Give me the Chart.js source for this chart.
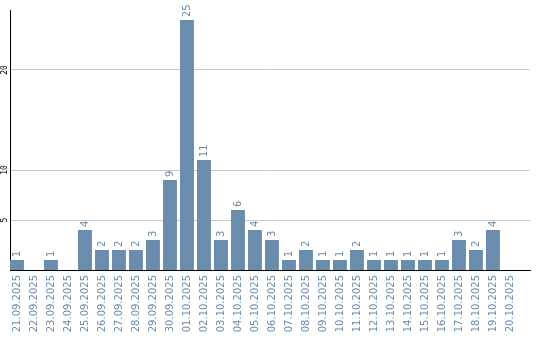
<!DOCTYPE html>
<html><head><meta charset="utf-8">
<style>html,body{margin:0;padding:0;background:#fff}#wrap{width:540px;height:340px}</style>
<script src="https://cdn.jsdelivr.net/npm/chart.js@4/dist/chart.umd.min.js"></script>
</head><body><div id="wrap"><canvas id="c" width="540" height="340"></canvas></div>
<script>
const categories = ["21.09.2025","22.09.2025","23.09.2025","24.09.2025","25.09.2025","26.09.2025","27.09.2025","28.09.2025","29.09.2025","30.09.2025","01.10.2025","02.10.2025","03.10.2025","04.10.2025","05.10.2025","06.10.2025","07.10.2025","08.10.2025","09.10.2025","10.10.2025","11.10.2025","12.10.2025","13.10.2025","14.10.2025","15.10.2025","16.10.2025","17.10.2025","18.10.2025","19.10.2025","20.10.2025"];
const values = [1,0,1,0,4,2,2,2,3,9,25,11,3,6,4,3,1,2,1,1,2,1,1,1,1,1,3,2,4,0];
const yTicks = [5,10,20];
const yMax = 26;

const barColor = '#6a8cad';
const textColor = '#6a8bad';

const valueLabels = {
  id: 'valueLabels',
  afterDatasetsDraw(chart) {
    const ctx = chart.ctx;
    const meta = chart.getDatasetMeta(0);
    ctx.save();
    ctx.font = '10px "DejaVu Sans"';
    ctx.fillStyle = textColor;
    ctx.textAlign = 'left';
    ctx.textBaseline = 'middle';
    meta.data.forEach((bar, i) => {
      const v = values[i];
      if (!v) return;
      ctx.save();
      ctx.translate(bar.x, bar.y - 3);
      ctx.rotate(-Math.PI / 2);
      ctx.fillText(String(v), 0, 0);
      ctx.restore();
    });
    ctx.restore();
  }
};

new Chart(document.getElementById('c'), {
  type: 'bar',
  data: {
    labels: categories,
    datasets: [{
      data: values,
      backgroundColor: barColor,
      borderWidth: 0,
      barPercentage: 0.82,
      categoryPercentage: 1.0
    }]
  },
  plugins: [valueLabels],
  options: {
    responsive: false,
    devicePixelRatio: 1,
    animation: false,
    layout: { padding: { top: 10, right: 10, left: 0, bottom: 0 } },
    plugins: { legend: { display: false }, tooltip: { enabled: false } },
    scales: {
      x: {
        offset: true,
        grid: { display: false, drawTicks: false },
        border: { display: true, color: '#000', width: 1 },
        ticks: {
          autoSkip: false, minRotation: 90, maxRotation: 90, padding: 5,
          color: textColor, font: { family: '"DejaVu Sans"', size: 10 }
        },
        afterBuildTicks(scale) {
          scale._startValue = -0.41;
          scale._valueRange = 30.59;
        },
        afterFit(scale) { scale.height = 70; }
      },
      y: {
        min: 0, max: yMax,
        grid: { color: '#c8c8c8', drawTicks: false, tickLength: 0 },
        border: { display: true, color: '#000', width: 1 },
        ticks: {
          minRotation: 90, maxRotation: 90, padding: 0, crossAlign: 'center',
          color: '#000', font: { family: '"DejaVu Sans Mono"', size: 8 }
        },
        afterBuildTicks(scale) { scale.ticks = yTicks.map(v => ({ value: v })); },
        afterFit(scale) { scale.width = 10; }
      }
    }
  }
});
</script>
</body></html>
